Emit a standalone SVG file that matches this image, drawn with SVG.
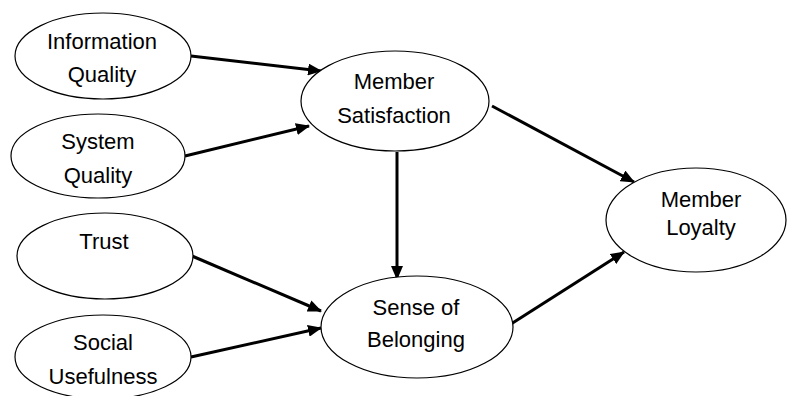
<svg xmlns="http://www.w3.org/2000/svg" width="787" height="396" viewBox="0 0 787 396">
  <style>
    .node ellipse { fill: #ffffff; stroke: #000000; stroke-width: 1.2; }
    .node text { font-family: "Liberation Sans", Arial, sans-serif; font-size: 22px; fill: #000000; text-anchor: middle; }
    .edge { stroke: #000000; stroke-width: 3; fill: none; marker-end: url(#arrow); }
  </style>
  <defs>
    <marker id="arrow" markerUnits="userSpaceOnUse" markerWidth="14" markerHeight="12" refX="13" refY="6" orient="auto">
      <path d="M0,0 L14,6 L0,12 z" fill="#000000"/>
    </marker>
  </defs>
  <rect width="787" height="396" fill="#ffffff"/>

  <g id="connectors">
    <line class="edge" x1="191" y1="56" x2="321" y2="71"/>
    <line class="edge" x1="185" y1="156" x2="309" y2="126"/>
    <line class="edge" x1="192" y1="256" x2="321" y2="311"/>
    <line class="edge" x1="191" y1="357" x2="321" y2="328"/>
    <line class="edge" x1="397" y1="152" x2="397" y2="279"/>
    <line class="edge" x1="492" y1="106" x2="634" y2="182"/>
    <line class="edge" x1="511" y1="324" x2="624" y2="252"/>
  </g>

  <g id="information-quality" class="node">
    <ellipse cx="103" cy="56" rx="88" ry="43"/>
    <text x="102" y="49">Information</text>
    <text x="102" y="82">Quality</text>
  </g>
  <g id="system-quality" class="node">
    <ellipse cx="98" cy="156" rx="87" ry="42"/>
    <text x="98" y="149">System</text>
    <text x="98" y="183">Quality</text>
  </g>
  <g id="trust" class="node">
    <ellipse cx="105" cy="256" rx="88" ry="43"/>
    <text x="104" y="249">Trust</text>
  </g>
  <g id="social-usefulness" class="node">
    <ellipse cx="103" cy="357" rx="88" ry="42"/>
    <text x="103" y="350">Social</text>
    <text x="103" y="384">Usefulness</text>
  </g>
  <g id="member-satisfaction" class="node">
    <ellipse cx="395" cy="101" rx="94" ry="50"/>
    <text x="394" y="89">Member</text>
    <text x="394" y="123">Satisfaction</text>
  </g>
  <g id="sense-of-belonging" class="node">
    <ellipse cx="417" cy="327" rx="96" ry="51"/>
    <text x="416" y="315">Sense of</text>
    <text x="416" y="347">Belonging</text>
  </g>
  <g id="member-loyalty" class="node">
    <ellipse cx="696" cy="220" rx="90" ry="52"/>
    <text x="701" y="207">Member</text>
    <text x="701" y="235">Loyalty</text>
  </g>
</svg>
